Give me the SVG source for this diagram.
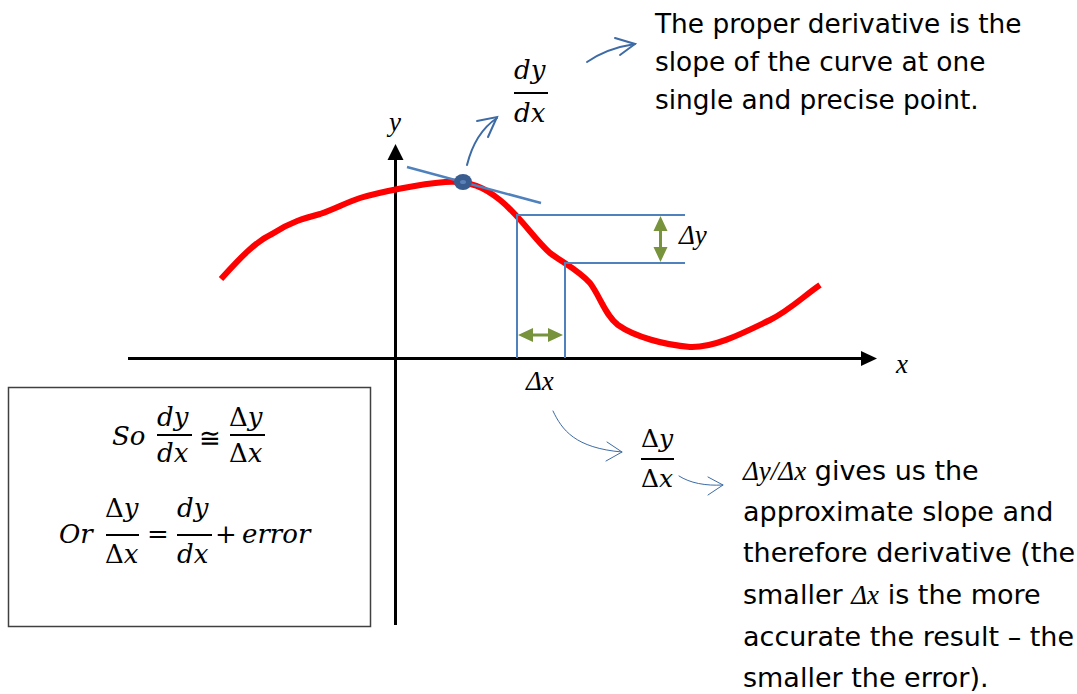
<svg xmlns="http://www.w3.org/2000/svg" width="1077" height="694" viewBox="0 0 1077 694">
<defs>
<style>
.sans{font-family:"DejaVu Sans","Liberation Sans",sans-serif;font-size:27px;fill:#000}
.math{font-family:"Liberation Serif","DejaVu Serif",serif;font-style:italic;font-size:27px;fill:#000}
.cm{font-family:"DejaVu Serif","Liberation Serif",serif;font-style:italic;font-size:26px;fill:#000}
.up{font-style:normal}
.blue{stroke:#4F81BD;stroke-width:2;fill:none}
.call{stroke:#3D6BA5;fill:none;stroke-linecap:round}
.green{stroke:#77933C;stroke-width:3}
.gh{fill:#77933C}
</style>
</defs>
<g id="axes">
<line x1="128" y1="358.5" x2="864" y2="358.5" stroke="#000" stroke-width="3"/>
<path d="M861,351 L877,358.5 L861,366 z" fill="#000"/>
<line x1="395.5" y1="625" x2="395.5" y2="158" stroke="#000" stroke-width="3"/>
<path d="M387.5,160 L395.5,144 L403.5,160 z" fill="#000"/>
<text class="math" x="389" y="131">y</text>
<text class="math" x="896" y="373">x</text>
</g>
<g id="curve">
<path d="M221,279 C240,258 255,242 272,234 C290,222 305,218 320,214 C335,209 345,203 360,198 C380,192 420,184 445,182 C470,180 485,188 500,200 C520,216 535,240 550,253 C565,264 578,270 590,283 C600,296 605,315 618,325 C635,337 665,345 690,347 C715,348 745,332 770,320 C790,310 805,295 820,285" stroke="#FF0000" stroke-width="6" fill="none"/>
</g>
<g id="tangent">
<line x1="407" y1="167" x2="541" y2="203" stroke="#4F81BD" stroke-width="2.5"/>
<ellipse cx="463" cy="182" rx="9" ry="8" fill="#3A5D8F"/>
<ellipse cx="463" cy="182" rx="3" ry="2" fill="#5B82B8"/>
</g>
<g id="deltas">
<path class="blue" d="M517,358 V215 H685"/>
<path class="blue" d="M565,358 V263 H685"/>
<line class="green" x1="660.5" y1="228" x2="660.5" y2="250"/>
<path class="gh" d="M660.5,216 L667.5,231 L653.5,231 z M660.5,262 L667.5,247 L653.5,247 z"/>
<line class="green" x1="530" y1="335" x2="551" y2="335"/>
<path class="gh" d="M518,335 L533,328 L533,342 z M563,335 L548,328 L548,342 z"/>
<text class="math" x="679" y="244">Δy</text>
<text class="math" x="526" y="390">Δx</text>
</g>
<g id="connectors">
<path class="call" stroke-width="2" d="M467,165 C472,145 482,128 497,118"/>
<path class="call" stroke-width="2" d="M477,121 L497,117 L488,137"/>
<path class="call" stroke-width="2" d="M587,62 C600,53 615,47 635,44"/>
<path class="call" stroke-width="2" d="M615,38 L635,44 L620,55"/>
<path class="call" stroke-width="1" d="M553,411 C562,430 575,448 622,452"/>
<path class="call" stroke-width="1" d="M607,442 L622,452 L606,461"/>
<path class="call" stroke-width="1" d="M679,476 C690,483 705,486 723,485"/>
<path class="call" stroke-width="1" d="M708,477 L723,485 L708,495"/>
</g>
<g id="dydx-top">
<text class="cm" x="514" y="79">dy</text>
<line x1="514" y1="93" x2="548" y2="93" stroke="#000" stroke-width="2"/>
<text class="cm" x="514" y="122">dx</text>
</g>
<g id="dydx-approx">
<text class="cm up" x="641" y="447" style="font-size:25px">Δ<tspan font-style="italic">y</tspan></text>
<line x1="641" y1="459" x2="674" y2="459" stroke="#000" stroke-width="2"/>
<text class="cm up" x="641" y="487" style="font-size:25px">Δ<tspan font-style="italic">x</tspan></text>
</g>
<g id="note-top">
<text class="sans" x="655" y="33" style="font-size:26.4px">The proper derivative is the</text>
<text class="sans" x="655" y="71" style="font-size:26.4px">slope of the curve at one</text>
<text class="sans" x="655" y="109" style="font-size:26.4px">single and precise point.</text>
</g>
<g id="note-bottom">
<text class="sans" x="743" y="480"><tspan class="math">Δy/Δx</tspan> gives us the</text>
<text class="sans" x="743" y="521">approximate slope and</text>
<text class="sans" x="743" y="562">therefore derivative (the</text>
<text class="sans" x="743" y="604">smaller <tspan class="math">Δx</tspan> is the more</text>
<text class="sans" x="743" y="646">accurate the result – the</text>
<text class="sans" x="743" y="687">smaller the error).</text>
</g>
<g id="formula-box">
<rect x="8.5" y="387.5" width="362" height="239" fill="#fff" stroke="#404040" stroke-width="1.5"/>
<text class="cm" x="112" y="445">So</text>
<text class="cm" x="157" y="426">dy</text>
<line x1="157" y1="435" x2="192" y2="435" stroke="#000" stroke-width="1.8"/>
<text class="cm" x="157" y="462">dx</text>
<text class="cm up" x="199" y="447">≅</text>
<text class="cm up" x="229" y="426">Δ<tspan font-style="italic">y</tspan></text>
<line x1="230" y1="435" x2="265" y2="435" stroke="#000" stroke-width="1.8"/>
<text class="cm up" x="229" y="462">Δ<tspan font-style="italic">x</tspan></text>
<text class="cm" x="59" y="543">Or</text>
<text class="cm up" x="105" y="517">Δ<tspan font-style="italic">y</tspan></text>
<line x1="106" y1="535" x2="139" y2="535" stroke="#000" stroke-width="1.8"/>
<text class="cm up" x="105" y="563">Δ<tspan font-style="italic">x</tspan></text>
<text class="cm up" x="147" y="543">=</text>
<text class="cm" x="177" y="517">dy</text>
<line x1="177" y1="535" x2="212" y2="535" stroke="#000" stroke-width="1.8"/>
<text class="cm" x="177" y="563">dx</text>
<text class="cm up" x="215" y="543">+</text>
<text class="cm" x="242" y="543">error</text>
</g>
</svg>
